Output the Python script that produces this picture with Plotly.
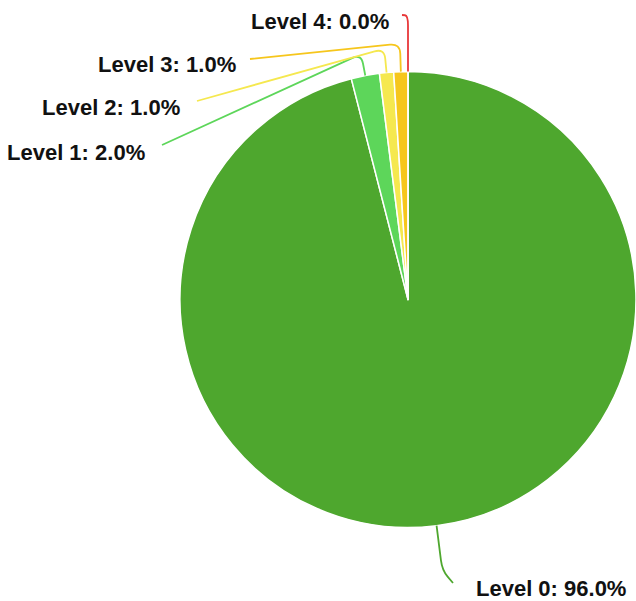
import math
import plotly.graph_objects as go

# ---- data ----
labels = ["Level 0", "Level 1", "Level 2", "Level 3", "Level 4"]
values = [96, 2, 1, 1, 0]
colors = ["#4ea72e", "#5dd65a", "#f5e84f", "#f6c61c", "#e8383a"]

# ---- layout constants (pixels) ----
W, H = 636, 601
CX, CY, R = 408.0, 299.5, 228.0
# label anchor: (x, y, side) side='right' means text ends at x
label_anchor = [(474, 588, "left"), (147, 152, "right"), (182, 107, "right"),
                (238, 64, "right"), (391, 22, "right")]
elbow_len = [45, 22, 24, 28, 56]
line_gap = [21, 15, 15, 12, 11]
line_dy = [-5, -7, -6, -5, -7]


def px2paper(x, y):
    return x / W, 1 - y / H


def towards(p, q, d):
    L = math.hypot(q[0] - p[0], q[1] - p[1])
    if L == 0:
        return p
    d = min(d, L * 0.5)
    return (p[0] + (q[0] - p[0]) * d / L, p[1] + (q[1] - p[1]) * d / L)


fig = go.Figure(go.Pie(
    labels=labels, values=values, sort=False, direction="clockwise", rotation=0,
    marker=dict(colors=colors, line=dict(color="white", width=1.5)),
    textinfo="none", hoverinfo="label+percent", showlegend=False,
    domain=dict(x=[(CX - R) / W, (CX + R) / W],
                y=[1 - (CY + R) / H, 1 - (CY - R) / H]),
))

total = sum(values)
shapes = []
annotations = []
cum = 0.0
for i, (lab, v) in enumerate(zip(labels, values)):
    frac_start = cum / total
    cum += v
    frac_end = cum / total
    mid = (frac_start + frac_end) / 2 * 2 * math.pi  # clockwise from 12 o'clock
    dx, dy = math.sin(mid), -math.cos(mid)
    rim = (CX + R * dx, CY + R * dy)
    elbow = (rim[0] + elbow_len[i] * dx, rim[1] + elbow_len[i] * dy)
    ax, ay, side = label_anchor[i]
    if side == "right":
        end = (ax + line_gap[i], ay + line_dy[i])
    else:
        end = (ax - line_gap[i], ay + line_dy[i])
    a = towards(elbow, rim, 10)
    b = towards(elbow, end, 10)
    pts = [px2paper(*rim), px2paper(*a), px2paper(*elbow), px2paper(*b), px2paper(*end)]
    path = "M {0[0]},{0[1]} L {1[0]},{1[1]} Q {2[0]},{2[1]} {3[0]},{3[1]} L {4[0]},{4[1]}".format(*pts)
    shapes.append(dict(type="path", path=path, xref="paper", yref="paper",
                       line=dict(color=colors[i], width=1.8)))
    pct = v / total * 100
    tx, ty = px2paper(ax, ay)
    annotations.append(dict(
        x=tx, y=ty, xref="paper", yref="paper", showarrow=False,
        text=f"<b>{lab}: {pct:.1f}%</b>",
        xanchor="right" if side == "right" else "left", yanchor="middle",
        font=dict(family="Liberation Sans, Arial, sans-serif", size=22, color="#111111"),
    ))

fig.update_layout(
    width=W, height=H, margin=dict(l=0, r=0, t=0, b=0),
    paper_bgcolor="white", plot_bgcolor="white",
    shapes=shapes, annotations=annotations,
)

fig.write_html("out.html")
